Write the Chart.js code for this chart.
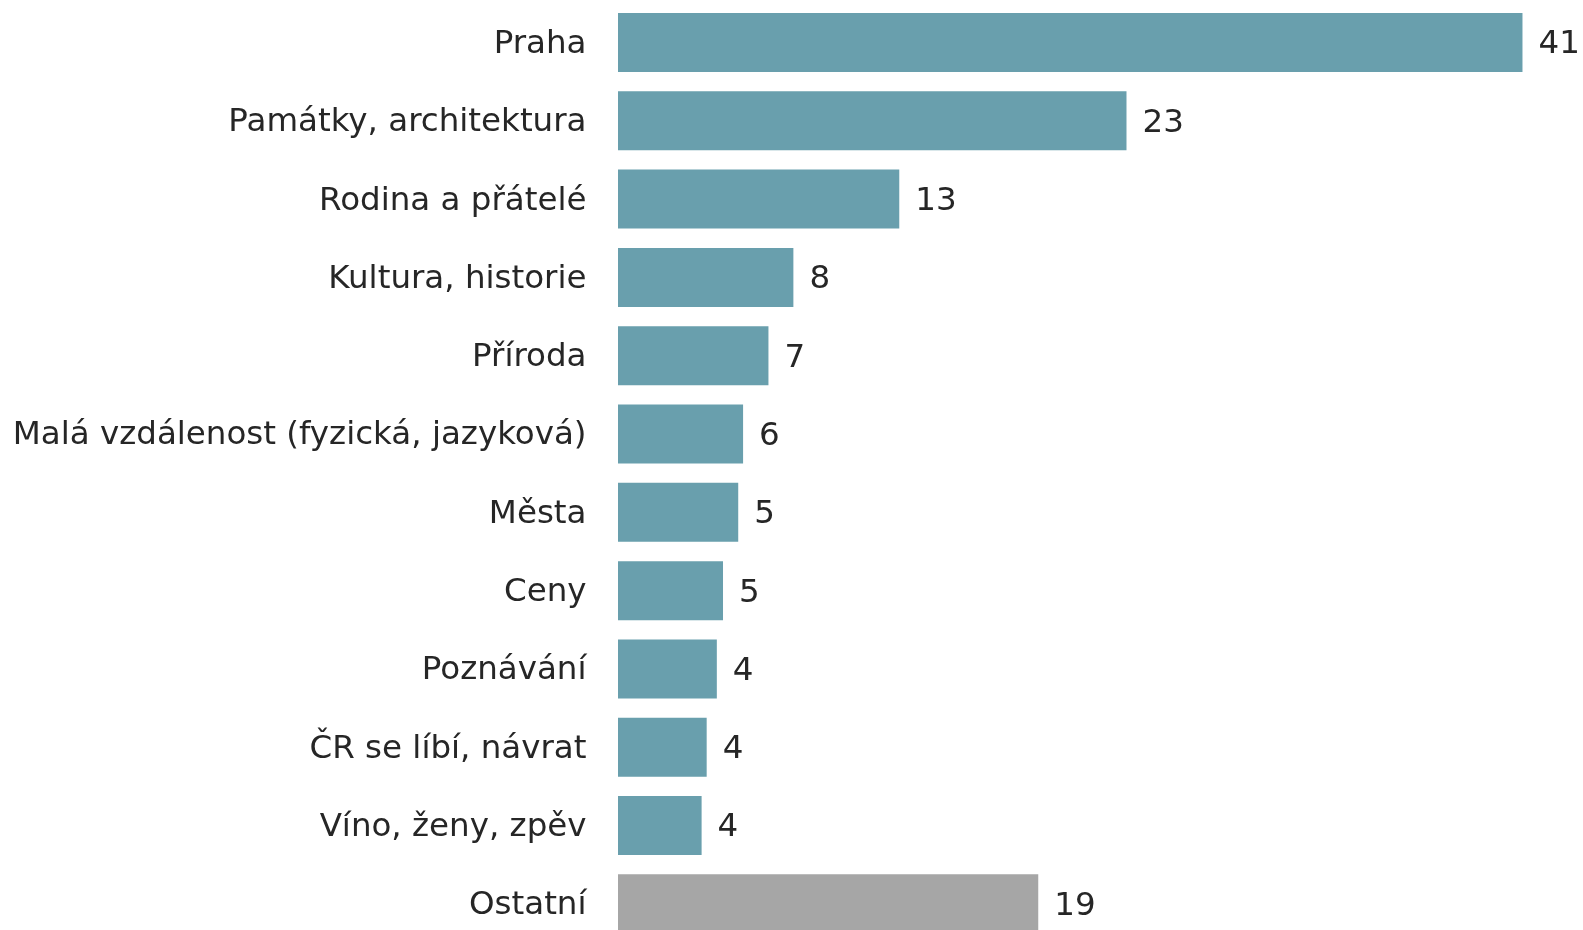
<!DOCTYPE html>
<html>
<head>
<meta charset="utf-8">
<script src="https://cdn.jsdelivr.net/npm/chart.js@4.4.1/dist/chart.umd.min.js"></script>
<style>
html,body{margin:0;padding:0;background:#fff;overflow:hidden;width:1583px;height:930px;}
#wrap{position:absolute;left:0;top:0;width:1583px;height:943px;}
</style>
</head>
<body>
<div id="wrap"><canvas id="c" width="1583" height="943"></canvas></div>
<script>
const categories = ["Praha","Památky, architektura","Rodina a přátelé","Kultura, historie","Příroda","Malá vzdálenost (fyzická, jazyková)","Města","Ceny","Poznávání","ČR se líbí, návrat","Víno, ženy, zpěv","Ostatní"];
const values = [41.0, 23.05, 12.75, 7.95, 6.82, 5.67, 5.45, 4.76, 4.48, 4.02, 3.79, 19.05];
const barColors = ["#699fad","#699fad","#699fad","#699fad","#699fad","#699fad","#699fad","#699fad","#699fad","#699fad","#699fad","#a6a6a6"];
const xMax = 43;

const FONT = "'DejaVu Sans', Verdana, sans-serif";
const FSIZE = 32.5;
const TEXT = "#262626";

const valueLabels = {
  id: 'valueLabels',
  afterDatasetsDraw(chart) {
    const ctx = chart.ctx;
    const meta = chart.getDatasetMeta(0);
    ctx.save();
    ctx.font = FSIZE + "px " + FONT;
    ctx.fillStyle = TEXT;
    ctx.textAlign = 'left';
    ctx.textBaseline = 'middle';
    meta.data.forEach((bar, i) => {
      ctx.fillText(String(Math.round(values[i])), bar.x + 16, bar.y + 2.5);
    });
    ctx.restore();
  }
};

new Chart(document.getElementById('c'), {
  type: 'bar',
  data: {
    labels: categories,
    datasets: [{
      data: values,
      backgroundColor: barColors,
      borderWidth: 0,
      categoryPercentage: 1,
      barPercentage: 0.7535
    }]
  },
  options: {
    indexAxis: 'y',
    responsive: false,
    devicePixelRatio: 1,
    animation: false,
    layout: { padding: { top: 3.35, bottom: 0, left: 0, right: 16.4 } },
    plugins: { legend: { display: false }, tooltip: { enabled: false } },
    scales: {
      x: { display: false, min: 0, max: xMax },
      y: {
        grid: { display: false, drawTicks: false },
        border: { display: false },
        ticks: {
          color: TEXT,
          padding: 31.5,
          labelOffset: 2,
          font: { family: FONT, size: FSIZE }
        },
        afterFit(scale) { scale.width = 618; scale.paddingTop = 0; scale.paddingBottom = 0; }
      }
    }
  },
  plugins: [valueLabels]
});
</script>
</body>
</html>
